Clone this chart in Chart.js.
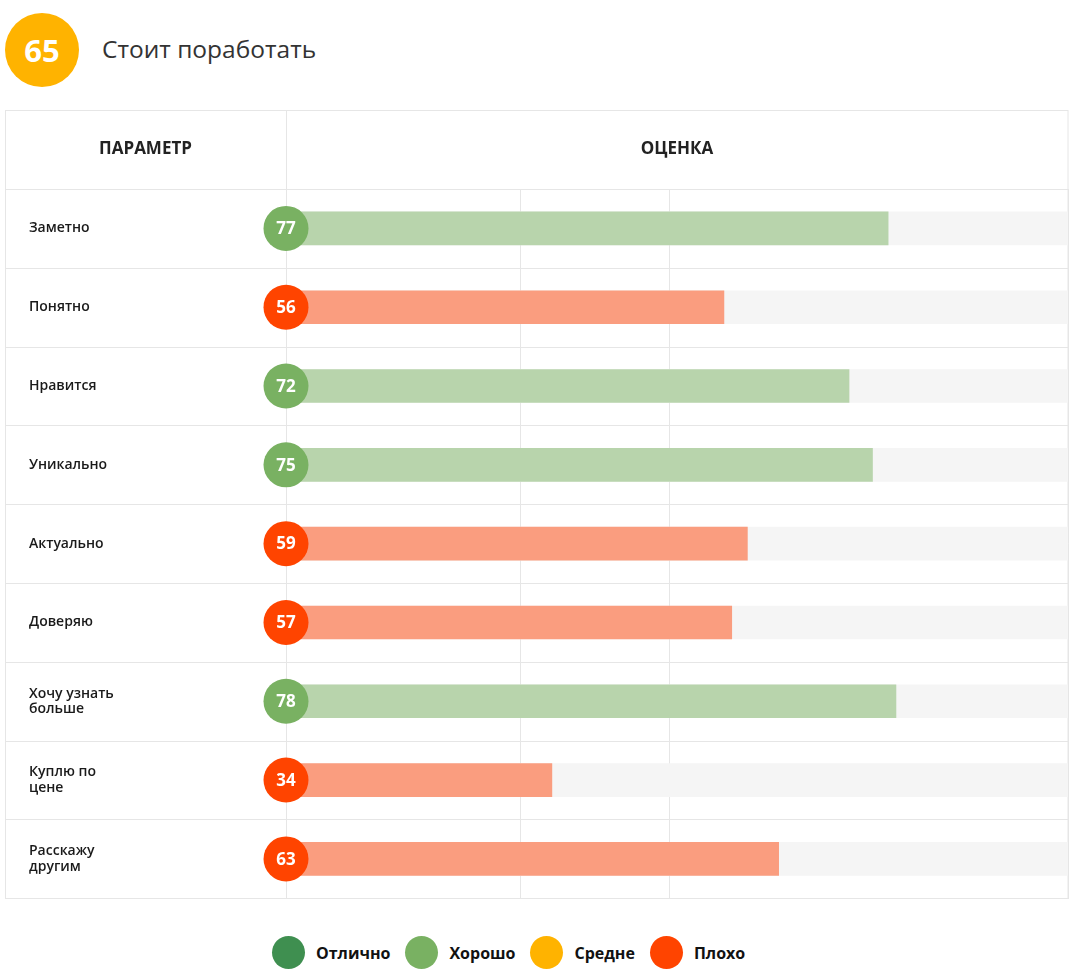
<!DOCTYPE html>
<html>
<head>
<meta charset="utf-8">
<script src="https://cdn.jsdelivr.net/npm/chart.js@4"></script>
<style>
  body { margin: 0; background: #fff; font-family: 'Open Sans', sans-serif; width: 1074px; height: 979px; position: relative; overflow: hidden; }
  #score { position: absolute; left: 5px; top: 13px; width: 74px; height: 74px; border-radius: 50%; background: #ffb300; color: #fff;
           font: 700 31px 'Open Sans', sans-serif; display: flex; align-items: center; justify-content: center; }
  #title { position: absolute; left: 102px; top: 34px; font-size: 24.5px; line-height: 30px; color: #333; }
  #wrap { position: absolute; left: 5px; top: 110px; }
  #legend { position: absolute; left: 272px; top: 936px; display: flex; align-items: center; }
  .item { display: flex; align-items: center; margin-right: 15px; font: 700 16px 'Open Sans', sans-serif; color: #111; }
  .dot { width: 33px; height: 33px; border-radius: 50%; margin-right: 11px; }
</style>
</head>
<body>
<div id="score"></div>
<div id="title"></div>
<div id="wrap"><canvas id="chart" width="1064" height="796"></canvas></div>
<div id="legend"></div>
<script>
const title = 'Стоит поработать'
const total = 65
const params = [['Заметно'], ['Понятно'], ['Нравится'], ['Уникально'], ['Актуально'], ['Доверяю'],
  ['Хочу узнать', 'больше'], ['Куплю по', 'цене'], ['Расскажу', 'другим']]
const scores = [77, 56, 72, 75, 59, 57, 78, 34, 63]
const gridTicks = [0, 30, 49, 100]
const grades = ['Отлично', 'Хорошо', 'Средне', 'Плохо']
const gradeColors = ['#3f8f50', '#79b162', '#ffb300', '#ff4400']
const barColors = ['#a7c9ae', '#b8d4ac', '#ffdb8a', '#fa9d7f']

function grade(v) {
  if (v >= 85) return 0
  if (v >= 70) return 1
  if (v >= 65) return 2
  return 3
}

document.querySelector('#score').textContent = total
document.querySelector('#title').textContent = title
document.querySelector('#legend').innerHTML = grades.map((g, i) =>
  '<div class="item"><div class="dot" style="background:' + gradeColors[i] + '"></div>' + g + '</div>').join('')

const lineColor = '#e6e6e6'

// table frame, row lines, header and the value circles
const tablePlugin = {
  id: 'table',
  beforeDatasetsDraw(chart) {
    const { ctx, chartArea, scales: { y } } = chart
    const w = chart.width
    const half = (y.getPixelForValue(1) - y.getPixelForValue(0)) / 2
    ctx.save()
    ctx.strokeStyle = lineColor
    ctx.lineWidth = 1
    ctx.beginPath()
    for (let i = 0; i <= params.length; i++) {
      const py = Math.round(i < params.length ? y.getPixelForValue(i) - half : y.getPixelForValue(i - 1) + half) + 0.5
      ctx.moveTo(0, py)
      ctx.lineTo(w, py)
    }
    // column separator through the header
    const sx = Math.round(chartArea.left) + 0.5
    ctx.moveTo(sx, 0)
    ctx.lineTo(sx, chartArea.top)
    ctx.stroke()
    ctx.strokeRect(0.5, 0.5, w - 1.5, Math.round(chartArea.bottom))
    // header
    ctx.fillStyle = '#222'
    ctx.font = '700 17px "Open Sans"'
    ctx.textAlign = 'center'
    ctx.textBaseline = 'middle'
    ctx.fillText('ПАРАМЕТР', chartArea.left / 2, chartArea.top / 2)
    ctx.fillText('ОЦЕНКА', (chartArea.left + chartArea.right) / 2, chartArea.top / 2)
    ctx.restore()
  },
  afterDatasetsDraw(chart) {
    const { ctx, scales: { x } } = chart
    const meta = chart.getDatasetMeta(0)
    const cx = x.getPixelForValue(0)
    ctx.save()
    ctx.textAlign = 'center'
    ctx.textBaseline = 'middle'
    ctx.font = '700 17px "Open Sans"'
    meta.data.forEach((bar, i) => {
      ctx.fillStyle = gradeColors[grade(scores[i])]
      ctx.beginPath()
      ctx.arc(cx, bar.y, 22.5, 0, Math.PI * 2)
      ctx.fill()
      ctx.fillStyle = '#fff'
      ctx.fillText(scores[i], cx, bar.y + 1)
    })
    ctx.restore()
  }
}

new Chart(document.querySelector('#chart'), {
  type: 'bar',
  data: {
    labels: params,
    datasets: [
      { data: scores, backgroundColor: scores.map(v => barColors[grade(v)]), barThickness: 33 },
      { data: scores.map(() => 100), backgroundColor: '#f5f5f5', barThickness: 33 }
    ]
  },
  options: {
    indexAxis: 'y',
    responsive: false,
    animation: false,
    layout: { padding: { top: 79, left: 24, right: 1, bottom: 0 } },
    plugins: { legend: { display: false }, tooltip: { enabled: false } },
    scales: {
      x: {
        min: 0,
        max: 100,
        afterBuildTicks: s => { s.ticks = gridTicks.map(v => ({ value: v })) },
        afterFit: s => { s.height = 0 },
        ticks: { display: false },
        grid: { color: lineColor, drawTicks: false },
        border: { display: false }
      },
      y: {
        stacked: true,
        afterFit: s => { s.width = 257 },
        grid: { display: false },
        border: { display: false },
        ticks: {
          crossAlign: 'far',
          padding: 0,
          color: '#1a1a1a',
          font: { family: 'Open Sans', size: 14, weight: '600', lineHeight: 1.1 }
        }
      }
    }
  },
  plugins: [tablePlugin]
})
</script>
</body>
</html>
